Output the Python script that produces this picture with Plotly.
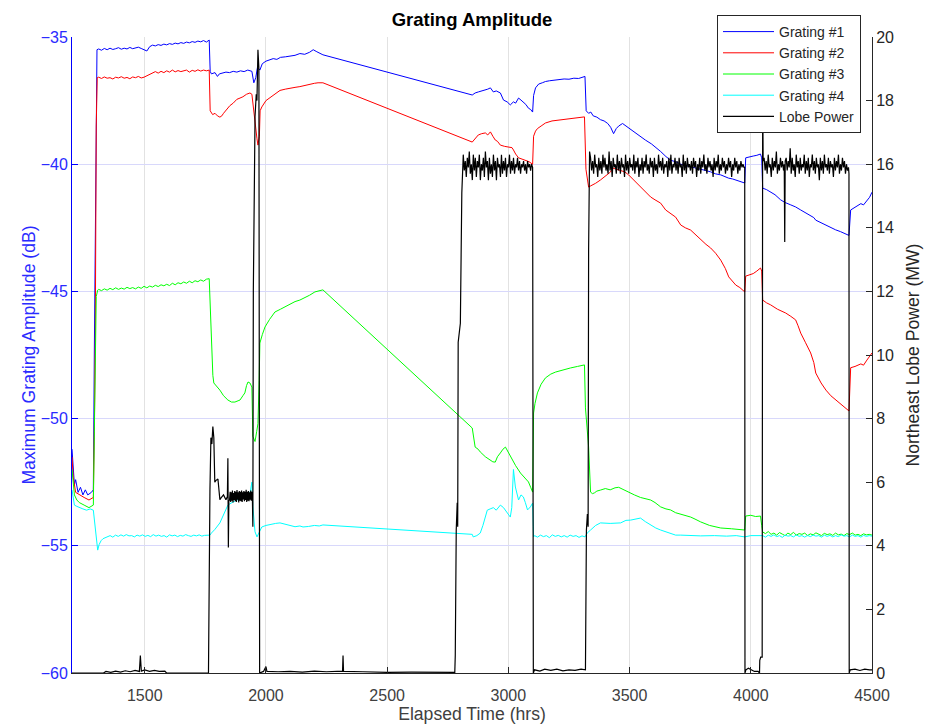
import numpy as np
import plotly.graph_objects as go

x_ticks = [1500, 2000, 2500, 3000, 3500, 4000, 4500]
y_left_ticks = [-60, -55, -50, -45, -40, -35]
y_right_ticks = [0, 2, 4, 6, 8, 10, 12, 14, 16, 18, 20]

# ---------------- Grating #1 ----------------
g1_start = [(1200, -51.2), (1205, -52.0), (1210, -52.6), (1215, -52.4), (1225, -52.9), (1235, -52.7),
            (1245, -53.0), (1255, -52.8), (1265, -53.0), (1280, -52.9), (1288, -52.8), (1292, -47.5),
            (1296, -42.6), (1300, -38.0), (1303, -35.5)]
g1_flat = [-35.47, -35.52, -35.45, -35.5, -35.44, -35.49, -35.46, -35.42, -35.48, -35.44, -35.47, -35.41,
           -35.46, -35.43, -35.4, -35.45, -35.5, -35.55, -35.38, -35.32, -35.35, -35.3, -35.33, -35.28,
           -35.31, -35.26, -35.29, -35.24, -35.27, -35.22, -35.25, -35.2, -35.23, -35.18, -35.21, -35.16,
           -35.19, -35.14, -35.2, -35.12]
g1_rest = [(1770, -36.35), (1775, -36.45), (1790, -36.4), (1800, -36.55), (1808, -36.45), (1820, -36.42),
           (1835, -36.38), (1850, -36.4), (1865, -36.35), (1880, -36.38), (1895, -36.33), (1910, -36.36),
           (1925, -36.3), (1942, -36.35), (1950, -36.8), (1958, -36.6), (1965, -36.2), (1975, -36.3),
           (1985, -36.05), (2000, -35.95), (2015, -35.9), (2030, -35.85), (2045, -35.88), (2060, -35.8),
           (2080, -35.78), (2100, -35.75), (2120, -35.72), (2140, -35.65), (2160, -35.68), (2180, -35.6),
           (2195, -35.5), (2210, -35.58), (2235, -35.7),
           (2851, -37.28), (2863, -37.2), (2876, -37.16), (2890, -37.12), (2905, -37.1), (2915, -37.05),
           (2926, -37.0), (2938, -37.16), (2950, -37.12), (2967, -37.2), (2980, -37.48), (2995, -37.55),
           (3008, -37.67), (3021, -37.55), (3030, -37.6), (3042, -37.4), (3052, -37.48), (3062, -37.55),
           (3072, -37.65), (3083, -37.8), (3092, -37.85), (3100, -37.95),
           (3104, -37.3), (3112, -37.0), (3125, -36.85), (3140, -36.8), (3153, -36.75), (3170, -36.72),
           (3190, -36.7), (3210, -36.68), (3230, -36.65), (3250, -36.66), (3270, -36.62), (3290, -36.63),
           (3300, -36.6), (3316, -36.55),
           (3321, -37.9), (3331, -38.0), (3340, -37.95), (3350, -38.1), (3365, -38.15), (3380, -38.25),
           (3395, -38.3), (3410, -38.4), (3422, -38.55), (3434, -38.8), (3445, -38.6), (3455, -38.5),
           (3471, -38.4), (3485, -38.5), (3500, -38.6), (3520, -38.75), (3545, -38.9), (3565, -39.05),
           (3590, -39.2), (3610, -39.35), (3628, -39.5), (3650, -39.7), (3670, -39.85), (3690, -39.9),
           (3711, -40.0), (3730, -40.05), (3752, -40.1), (3770, -40.12), (3793, -40.2), (3815, -40.25),
           (3834, -40.3), (3855, -40.38), (3876, -40.42), (3895, -40.5), (3909, -40.55), (3925, -40.58),
           (3938, -40.62), (3955, -40.68), (3975, -40.74),
           (3979, -39.75), (3995, -39.7), (4010, -39.68), (4025, -39.65), (4040, -39.6), (4045, -39.75),
           (4049, -40.94), (4065, -41.0), (4082, -41.1), (4100, -41.2), (4123, -41.4), (4140, -41.5),
           (4165, -41.6), (4185, -41.68), (4206, -41.8), (4225, -41.9), (4247, -42.0), (4260, -42.1),
           (4268, -42.2), (4290, -42.3), (4310, -42.4), (4330, -42.51), (4350, -42.58), (4370, -42.65),
           (4390, -42.72), (4405, -42.8),
           (4412, -41.8), (4420, -41.75), (4430, -41.7), (4440, -41.62), (4454, -41.55), (4465, -41.6),
           (4479, -41.41), (4490, -41.3), (4500, -41.1)]

# ---------------- Grating #2 ----------------
g2_start = [(1200, -51.5), (1205, -52.3), (1215, -52.9), (1230, -53.0), (1250, -53.1), (1270, -53.2),
            (1288, -53.1), (1292, -50.5), (1296, -47.0), (1300, -38.5), (1304, -36.6)]
g2_flat = [-36.58, -36.63, -36.57, -36.62, -36.6, -36.65, -36.58, -36.61, -36.56, -36.62, -36.59, -36.64,
           -36.57, -36.6, -36.55, -36.61, -36.58, -36.52, -36.45, -36.4, -36.36, -36.42, -36.35, -36.4,
           -36.33, -36.38, -36.3, -36.37, -36.32, -36.36, -36.34, -36.3, -36.38, -36.31, -36.35, -36.29,
           -36.34, -36.3, -36.33, -36.3]
g2_rest = [(1770, -37.9), (1780, -38.05), (1790, -38.0), (1800, -38.1), (1810, -38.15), (1818, -38.1),
           (1825, -38.0), (1838, -37.85), (1851, -37.7), (1865, -37.6), (1880, -37.45), (1893, -37.4),
           (1905, -37.35), (1920, -37.25), (1934, -37.2), (1942, -37.25), (1946, -37.6), (1955, -38.5),
           (1963, -39.0), (1967, -39.25), (1973, -38.9), (1976, -37.9), (1983, -37.75), (2000, -37.5),
           (2015, -37.4), (2030, -37.3), (2045, -37.2), (2058, -37.1), (2080, -37.05), (2100, -37.0),
           (2120, -36.98), (2140, -36.95), (2160, -36.9), (2180, -36.85), (2200, -36.82), (2215, -36.8),
           (2235, -36.8),
           (2851, -39.13), (2863, -39.0), (2876, -38.85), (2890, -38.8), (2905, -38.77), (2915, -38.85),
           (2926, -38.73), (2936, -38.9), (2946, -39.05), (2955, -39.1), (2967, -39.25), (2985, -39.3),
           (3008, -39.32), (3015, -39.35), (3021, -39.44), (3030, -39.6), (3042, -39.75), (3055, -39.8),
           (3071, -39.83), (3085, -39.9), (3100, -40.0),
           (3104, -38.9), (3112, -38.7), (3120, -38.6), (3135, -38.5), (3153, -38.38), (3180, -38.3),
           (3215, -38.26), (3240, -38.22), (3270, -38.2), (3295, -38.17), (3314, -38.14),
           (3320, -40.2), (3331, -40.9), (3340, -40.85), (3347, -40.82), (3360, -40.75), (3380, -40.62),
           (3400, -40.45), (3421, -40.31), (3430, -40.15), (3445, -40.2), (3463, -40.23), (3480, -40.3),
           (3496, -40.42), (3520, -40.65), (3545, -40.9), (3565, -41.1), (3587, -41.29), (3605, -41.4),
           (3628, -41.53), (3649, -41.8), (3670, -41.95), (3690, -42.08), (3711, -42.39), (3730, -42.5),
           (3752, -42.59), (3770, -42.75), (3793, -42.98), (3815, -43.15), (3834, -43.29), (3855, -43.5),
           (3876, -43.77), (3895, -44.1), (3909, -44.43), (3925, -44.6), (3938, -44.75), (3955, -44.85),
           (3975, -45.02),
           (3979, -44.4), (3995, -44.35), (4010, -44.3), (4025, -44.2), (4040, -44.08), (4045, -44.2),
           (4049, -45.34), (4065, -45.45), (4082, -45.53), (4110, -45.7), (4144, -45.85), (4165, -45.98),
           (4185, -46.12), (4195, -46.35), (4206, -46.64), (4225, -47.0), (4247, -47.42), (4260, -47.8),
           (4268, -48.21), (4290, -48.6), (4310, -48.88), (4330, -49.1), (4351, -49.27), (4375, -49.45),
           (4390, -49.55), (4405, -49.7),
           (4412, -48.0), (4430, -47.95), (4454, -47.85), (4465, -47.9), (4479, -47.7), (4490, -47.55),
           (4500, -47.42)]

# ---------------- Grating #3 ----------------
g3_start = [(1200, -52.0), (1205, -52.7), (1210, -53.0), (1220, -53.2), (1230, -53.3), (1250, -53.4),
            (1270, -53.5), (1288, -53.4), (1292, -51.0), (1296, -48.0), (1300, -45.2), (1306, -44.95)]
g3_flat = [-44.92, -44.97, -44.9, -44.95, -44.88, -44.93, -44.86, -44.92, -44.87, -44.91, -44.84, -44.89,
           -44.85, -44.9, -44.83, -44.88, -44.8, -44.86, -44.79, -44.83, -44.76, -44.81, -44.74, -44.78,
           -44.72, -44.77, -44.68, -44.74, -44.66, -44.7, -44.63, -44.68, -44.6, -44.66, -44.58, -44.62,
           -44.55, -44.6, -44.52, -44.5]
g3_mid = [(1770, -45.5), (1774, -47.0), (1777, -47.97), (1781, -48.3), (1785, -48.6), (1795, -48.7),
          (1810, -48.88), (1825, -49.1), (1843, -49.27), (1858, -49.35), (1872, -49.35), (1885, -49.3),
          (1893, -49.27), (1905, -49.1), (1913, -48.99), (1920, -48.7), (1926, -48.56), (1934, -48.6),
          (1942, -48.76), (1946, -50.7), (1955, -50.9), (1962, -50.5), (1967, -50.2), (1972, -48.5),
          (1975, -47.03), (1985, -46.7), (1996, -46.4), (2015, -46.1), (2037, -45.81), (2060, -45.7),
          (2080, -45.6), (2099, -45.53), (2120, -45.4), (2140, -45.34), (2160, -45.25), (2180, -45.15),
          (2202, -45.02), (2215, -45.0), (2235, -44.94),
          (2851, -50.37), (2857, -50.8), (2863, -51.12), (2875, -51.2), (2884, -51.31), (2905, -51.5),
          (2926, -51.63), (2936, -51.7), (2946, -51.71), (2955, -51.5), (2967, -51.35), (2978, -51.2),
          (2988, -51.12), (2998, -51.3), (3008, -51.51), (3030, -51.85), (3050, -52.14), (3065, -52.3),
          (3083, -52.49), (3092, -52.7), (3100, -52.89),
          (3104, -49.78), (3110, -49.4), (3120, -48.99), (3135, -48.65), (3153, -48.4), (3175, -48.25),
          (3195, -48.17), (3225, -48.08), (3256, -48.01), (3285, -47.95), (3314, -47.89),
          (3318, -49.58), (3325, -50.5), (3331, -51.12), (3339, -52.89), (3347, -52.95), (3355, -52.92),
          (3365, -52.85), (3380, -52.81), (3400, -52.75), (3420, -52.8), (3440, -52.72), (3455, -52.7),
          (3475, -52.8), (3496, -52.89), (3520, -53.0), (3545, -53.1), (3565, -53.15), (3587, -53.2),
          (3605, -53.3), (3628, -53.47), (3650, -53.55), (3669, -53.59), (3690, -53.7), (3710, -53.75),
          (3730, -53.8), (3752, -53.87), (3770, -53.95), (3793, -54.06), (3830, -54.2), (3876, -54.3),
          (3920, -54.33), (3950, -54.35), (3975, -54.38),
          (3979, -53.83), (4000, -53.8), (4020, -53.85), (4040, -53.83), (4045, -54.2)]
g3_tail = [-54.46, -54.52, -54.44, -54.55, -54.5, -54.58, -54.48, -54.54, -54.6, -54.5, -54.56, -54.47,
           -54.58, -54.52, -54.55, -54.5, -54.6, -54.53, -54.57, -54.49, -54.55, -54.6, -54.51, -54.56,
           -54.53, -54.59, -54.5, -54.57, -54.54, -54.6, -54.52, -54.56, -54.5, -54.58, -54.55, -54.6,
           -54.53, -54.57, -54.55, -54.58]

# ---------------- Grating #4 ----------------
g4_start = [(1200, -52.8), (1205, -53.2), (1210, -53.4), (1220, -53.45), (1230, -53.5), (1245, -53.55),
            (1260, -53.6), (1275, -53.55), (1288, -53.6), (1296, -54.3), (1302, -54.9), (1306, -55.17),
            (1312, -54.95), (1320, -54.8), (1328, -54.72)]
g4_flat = [-54.69, -54.64, -54.6, -54.66, -54.58, -54.63, -54.57, -54.62, -54.56, -54.61, -54.6, -54.65,
           -54.58, -54.62, -54.57, -54.63, -54.59, -54.64, -54.56, -54.62, -54.58, -54.63, -54.6, -54.66,
           -54.57, -54.61, -54.58, -54.64, -54.59, -54.62, -54.56, -54.6, -54.63, -54.58, -54.61, -54.57,
           -54.62, -54.59, -54.6, -54.58]
g4_mid = [(1775, -54.5), (1790, -54.35), (1810, -54.1), (1825, -53.8), (1843, -53.4), (1860, -53.3),
          (1880, -53.2), (1900, -53.15), (1915, -53.1), (1926, -53.08), (1935, -52.9), (1942, -52.5),
          (1946, -53.47), (1955, -54.45), (1963, -54.65), (1972, -54.5), (1983, -54.26), (2000, -54.2),
          (2020, -54.15), (2040, -54.12), (2058, -54.1), (2080, -54.15), (2100, -54.2), (2120, -54.25),
          (2140, -54.22), (2153, -54.26), (2175, -54.24), (2200, -54.2), (2220, -54.22), (2235, -54.18),
          (2851, -54.55), (2855, -54.65), (2870, -54.6), (2884, -54.5), (2895, -54.2), (2905, -53.9),
          (2913, -53.6), (2925, -53.55), (2938, -53.5), (2950, -53.6), (2967, -53.4), (2980, -53.5),
          (2996, -53.7), (3008, -53.87), (3014, -53.5), (3021, -52.0), (3029, -52.69), (3042, -53.2),
          (3052, -53.0), (3062, -53.08), (3070, -53.3), (3079, -53.59), (3091, -53.47), (3100, -53.32),
          (3104, -54.65)]
g4_flat2 = [-54.6, -54.66, -54.58, -54.64, -54.6, -54.68, -54.57, -54.63, -54.59, -54.65, -54.6, -54.66,
            -54.58, -54.63, -54.6, -54.67, -54.61, -54.65]
g4_mid2 = [(3325, -54.5), (3339, -54.38), (3360, -54.2), (3380, -54.1), (3420, -54.12), (3463, -54.1),
           (3485, -54.0), (3504, -53.99), (3525, -53.95), (3545, -53.91), (3565, -54.05), (3587, -54.18),
           (3608, -54.3), (3628, -54.38), (3650, -54.45), (3670, -54.52), (3690, -54.58), (3711, -54.58),
           (3750, -54.6), (3793, -54.61), (3850, -54.6), (3900, -54.62), (3940, -54.6), (3975, -54.65),
           (4000, -54.6), (4045, -54.62)]
g4_tail = [-54.6, -54.66, -54.58, -54.63, -54.57, -54.64, -54.6, -54.67, -54.58, -54.62, -54.6, -54.65,
           -54.57, -54.63, -54.6, -54.66, -54.59, -54.64, -54.58, -54.62, -54.6, -54.66, -54.58, -54.63,
           -54.59, -54.65, -54.6, -54.64, -54.57, -54.62, -54.6, -54.65, -54.58, -54.63, -54.6, -54.66,
           -54.59, -54.63, -54.6, -54.62]

# ---------------- Lobe Power (MW) ----------------
lobe_p1 = [(1200, 0), (1330, 0), (1340, 0.05), (1360, 0.02), (1380, 0.06), (1400, 0.03), (1420, 0.07),
           (1440, 0.04), (1460, 0.08), (1478, 0.05), (1482, 0.55), (1486, 0.06), (1500, 0.1), (1520, 0.05),
           (1540, 0.08), (1560, 0.05), (1583, 0.06), (1590, 0), (1763, 0), (1765, 3.2), (1769, 5.75),
           (1773, 7.4), (1777, 7.2), (1781, 7.75), (1785, 7.4), (1789, 6.0), (1793, 6.05), (1802, 6.1),
           (1806, 5.8), (1810, 5.45), (1814, 5.5), (1825, 5.6), (1835, 5.45), (1841, 5.55), (1843, 6.75),
           (1845, 3.95), (1847, 5.4)]
lobe_band0 = [5.45, 5.7, 5.38, 5.68, 5.42, 5.74, 5.36, 5.66, 5.44, 5.72, 5.4, 5.7, 5.38, 5.75, 5.45, 5.68,
              5.36, 5.72, 5.42, 5.7, 5.4, 5.74, 5.38, 5.68, 5.46, 5.72, 5.4, 5.7, 5.44, 5.76, 5.38, 5.7,
              5.42, 5.72, 5.4, 5.68, 5.45, 5.74, 5.42, 5.7]
lobe_p2 = [(1944, 5.55), (1946, 4.6), (1948, 12.0), (1955, 17.5), (1960, 18.2), (1963, 18.0), (1967, 19.6),
           (1971, 19.0), (1974, 0.0), (1990, 0.05), (2000, 0.2), (2004, 0.05), (2050, 0.04), (2100, 0.05),
           (2150, 0.03), (2200, 0.06), (2250, 0.04), (2316, 0.06), (2318, 0.55), (2320, 0.05), (2400, 0.04),
           (2500, 0.02), (2600, 0.03), (2700, 0.02), (2779, 0.02), (2781, 0.55), (2785, 4.5), (2789, 5.35),
           (2791, 4.6), (2793, 10.4), (2797, 10.6), (2802, 11.0), (2808, 15.1)]
lobe_band_a = [16.3, 15.8, 16.1, 15.6, 16.2, 15.9, 16.4, 15.7, 16.0, 15.5,
               16.3, 15.8, 16.2, 15.6, 16.1, 15.9, 16.3, 15.5, 16.0, 15.8,
               16.2, 15.6, 16.4, 15.9, 16.1, 15.5, 16.2, 15.7, 16.0, 15.6,
               16.3, 15.8, 16.1, 15.5, 16.2, 15.9, 16.0, 15.6, 16.3, 15.7,
               16.1, 15.8, 16.2, 15.6, 16.0, 15.9, 16.3, 15.7, 16.1, 15.8,
               16.2, 15.7, 16.0, 15.9, 16.2, 15.8, 16.1, 15.7, 16.0, 15.9,
               16.1, 15.8, 16.0, 15.7, 16.1, 15.9, 16.0, 15.8, 16.0, 15.9]
lobe_p3 = [(3103, 0.0), (3108, 0.1), (3130, 0.06), (3150, 0.12), (3175, 0.08), (3200, 0.12), (3225, 0.07),
           (3250, 0.1), (3275, 0.08), (3300, 0.12), (3318, 0.1), (3322, 4.5), (3326, 5.0), (3329, 4.6),
           (3331, 13.3), (3335, 16.4)]
lobe_band_b = [16.2, 15.8, 16.1, 15.7, 16.3, 15.9, 16.0, 15.6, 16.2, 15.8,
               16.1, 15.7, 16.3, 15.9, 16.2, 15.8, 16.0, 15.7, 16.4, 15.8,
               16.1, 15.6, 16.2, 15.9, 16.0, 15.7, 16.3, 15.8, 16.1, 15.7,
               16.2, 15.9, 16.0, 15.6, 16.3, 15.8, 16.1, 15.7, 16.2, 15.9,
               16.0, 15.8, 16.3, 15.7, 16.1, 15.9, 16.2, 15.6, 16.0, 15.8,
               16.2, 15.7, 16.1, 15.9, 16.3, 15.8, 16.0, 15.7, 16.2, 15.9,
               16.1, 15.6, 16.2, 15.8, 16.0, 15.7, 16.3, 15.9, 16.1, 15.8,
               16.2, 15.7, 16.0, 15.9, 16.1, 15.6, 16.2, 15.8, 16.3, 15.7,
               16.0, 15.9, 16.2, 15.8, 16.1, 15.7, 16.2, 15.9, 16.0, 15.6,
               16.3, 15.8, 16.1, 15.7, 16.2, 15.9, 16.0, 15.8, 16.1, 15.7,
               16.2, 15.9, 16.1, 15.6, 16.0, 15.8, 16.2, 15.7, 16.1, 15.9,
               16.3, 15.8, 16.0, 15.7, 16.2, 15.9, 16.1, 15.8, 16.0, 15.6,
               16.2, 15.8, 16.1, 15.9, 16.3, 15.7, 16.0, 15.8, 16.2, 15.9,
               16.1, 15.7, 16.0, 15.8, 16.2, 15.9, 16.1, 15.6, 16.0, 15.8,
               16.2, 15.9, 16.1, 15.7, 16.0, 15.8, 16.1, 15.9, 16.0, 15.9]
lobe_p4 = [(3975, 15.9), (3976, 0.0), (3980, 0.1), (3990, 0.15), (4000, 0.1), (4015, 0.05), (4030, 0.05),
           (4036, 0.0), (4037, 0.4), (4041, 0.5), (4047, 0.5), (4049, 18.5), (4051, 16.1)]
lobe_band_c1 = [16.2, 15.8, 16.1, 15.7, 16.3, 15.9, 16.0, 15.6, 16.2, 15.8,
                16.1, 15.9, 16.4, 15.7, 16.0, 15.8, 16.2, 15.9, 16.1, 15.8]
lobe_p5 = [(4138, 16.0), (4140, 13.55), (4142, 16.1)]
lobe_band_c2 = [16.2, 15.8, 16.1, 15.9, 16.5, 15.7, 16.2, 15.8, 16.0, 15.6,
                16.3, 15.9, 16.1, 15.7, 16.2, 15.8, 16.0, 15.9, 16.3, 15.7,
                16.1, 15.8, 16.2, 15.6, 16.0, 15.9, 16.3, 15.8, 16.1, 15.7,
                16.2, 15.9, 16.0, 15.5, 16.2, 15.8, 16.1, 15.7, 16.3, 15.9,
                16.0, 15.8, 16.2, 15.7, 16.1, 15.9, 16.0, 15.6, 16.2, 15.8,
                16.1, 15.9, 16.3, 15.7, 16.0, 15.8, 16.2, 15.9, 16.1, 15.7,
                16.0, 15.8, 15.9]
lobe_p6 = [(4405, 15.7), (4406, 0.0), (4410, 0.1), (4430, 0.12), (4450, 0.08), (4470, 0.12), (4490, 0.1),
           (4500, 0.1)]


def pts(p):
    return [a for a, _ in p], [b for _, b in p]


def band(t0, t1, vals):
    return list(np.linspace(t0, t1, len(vals))), list(vals)


def join(*parts):
    xs, ys = [], []
    for px, py in parts:
        xs += list(px)
        ys += list(py)
    return xs, ys


g1_x, g1_y = join(pts(g1_start), band(1310, 1766, g1_flat), pts(g1_rest))
g2_x, g2_y = join(pts(g2_start), band(1310, 1766, g2_flat), pts(g2_rest))
g3_x, g3_y = join(pts(g3_start), band(1310, 1766, g3_flat), pts(g3_mid), band(4049, 4500, g3_tail))
g4_x, g4_y = join(pts(g4_start), band(1335, 1769, g4_flat), pts(g4_mid), band(3108, 3316, g4_flat2),
                  pts(g4_mid2), band(4049, 4500, g4_tail))
lp_x, lp_y = join(pts(lobe_p1), band(1850, 1942, lobe_band0), pts(lobe_p2), band(2814, 3100, lobe_band_a),
                  pts(lobe_p3), band(3339, 3972, lobe_band_b), pts(lobe_p4), band(4055, 4135, lobe_band_c1),
                  pts(lobe_p5), band(4146, 4403, lobe_band_c2), pts(lobe_p6))

FONT = "Liberation Sans, Arial, Helvetica, sans-serif"
BLUE = "#0000ff"
DARK = "#262626"

fig = go.Figure()
for xs, ys, col, nm in [(g1_x, g1_y, "#0000ff", "Grating #1"), (g2_x, g2_y, "#ff0000", "Grating #2"),
                        (g3_x, g3_y, "#00ff00", "Grating #3"), (g4_x, g4_y, "#00ffff", "Grating #4")]:
    fig.add_trace(go.Scatter(x=xs, y=ys, mode="lines", name=nm, line=dict(color=col, width=1)))
fig.add_trace(go.Scatter(x=lp_x, y=lp_y, mode="lines", name="Lobe Power", yaxis="y2",
                         line=dict(color="#000000", width=1.2)))

fig.update_layout(
    width=927, height=727,
    margin=dict(l=72, r=55, t=37, b=54, autoexpand=False),
    paper_bgcolor="white", plot_bgcolor="white",
    font=dict(family=FONT, size=16, color=DARK),
    title=dict(text="<b>Grating Amplitude</b>", x=0.5, xref="paper", xanchor="center",
               y=1 - 20 / 727, yref="container", yanchor="middle",
               font=dict(size=18.5, color="#000000", family=FONT)),
    xaxis=dict(range=[1200, 4500], tickvals=x_ticks, ticks="inside", ticklen=6, tickcolor=DARK,
               showline=True, linecolor=DARK, linewidth=1, showgrid=True, gridcolor="#e2e2e2",
               zeroline=False, automargin=False, tickfont=dict(size=16, color="#404040"),
               ticklabelstandoff=8,
               title=dict(text="Elapsed Time (hrs)", font=dict(size=17.6, color="#404040"), standoff=2)),
    yaxis=dict(range=[-60, -35], tickvals=y_left_ticks, ticks="inside", ticklen=6, tickcolor=BLUE,
               showline=True, linecolor=BLUE, linewidth=1, showgrid=True, gridcolor="#d8d8fb",
               zeroline=False, automargin=False, tickfont=dict(size=16, color="#2a2aff"),
               title=dict(text="Maximum Grating Amplitude (dB)", font=dict(size=17.6, color="#2a2aff"),
                          standoff=0)),
    yaxis2=dict(range=[0, 20], tickvals=y_right_ticks, overlaying="y", side="right", ticks="inside",
                ticklen=6, tickcolor=DARK, showline=True, linecolor=DARK, linewidth=1, showgrid=False,
                zeroline=False, automargin=False, tickfont=dict(size=16, color=DARK),
                title=dict(text="Northeast Lobe Power (MW)", font=dict(size=17.6, color=DARK), standoff=13)),
    legend=dict(x=(717 - 72) / 800, y=(673 - 15) / 636, xanchor="left", yanchor="top",
                bgcolor="white", bordercolor=DARK, borderwidth=1, font=dict(size=14, color=DARK),
                tracegroupgap=0, itemwidth=51),
    showlegend=True,
)

fig.write_html("out.html")
